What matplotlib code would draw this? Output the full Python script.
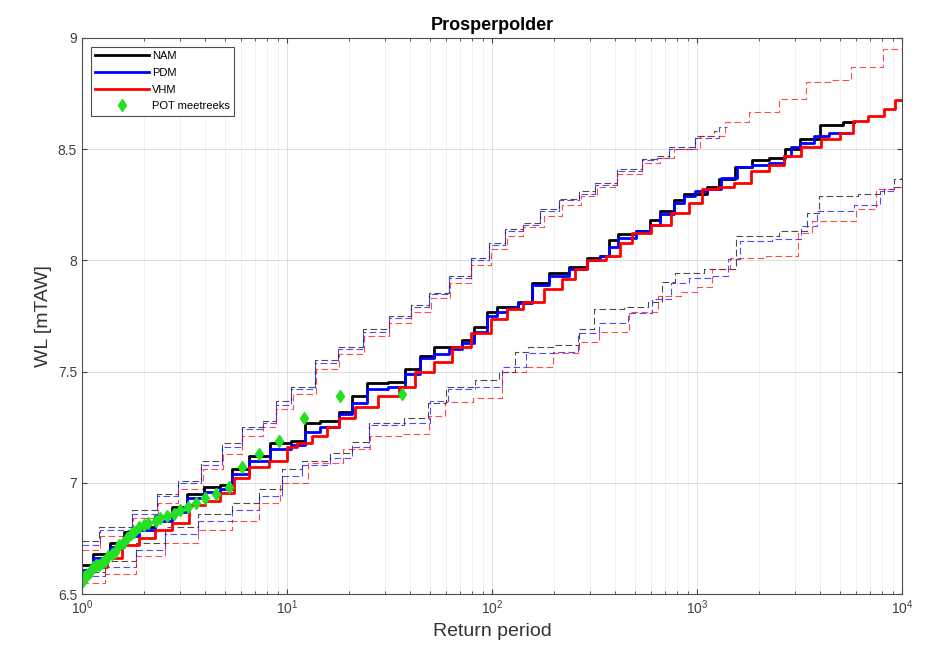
import numpy as np
import matplotlib
matplotlib.use('Agg')
from matplotlib import pyplot as plt

plt.rcParams['font.family'] = ['Liberation Sans', 'DejaVu Sans']
plt.rcParams['mathtext.default'] = 'regular'

# main curves (return period, water level)
nam_T = [1.0, 1.27, 1.48, 1.71, 2.07, 2.48, 3.01, 3.48, 4.36, 5.10, 5.70, 7.38, 9.24, 11.6, 12.9, 16.2,
         19.6, 21.9, 27.5, 34.4, 41.2, 48.2, 55.7, 67.5, 75.6, 87.4, 101, 110, 126, 142, 172, 207, 269,
         310, 363, 385, 436, 570, 610, 714, 827, 895, 1070, 1160, 1400, 1680, 2030, 2460, 2940, 3450,
         4480, 5830]
nam_WL = [6.63, 6.68, 6.73, 6.78, 6.80, 6.85, 6.89, 6.95, 6.98, 6.99, 7.06, 7.12, 7.18, 7.19, 7.27, 7.28,
          7.32, 7.39, 7.45, 7.455, 7.51, 7.57, 7.61, 7.61, 7.64, 7.70, 7.77, 7.79, 7.79, 7.815, 7.90, 7.945,
          7.97, 8.01, 8.02, 8.09, 8.12, 8.13, 8.18, 8.22, 8.27, 8.30, 8.30, 8.33, 8.365, 8.42, 8.45, 8.46,
          8.50, 8.545, 8.61, 8.62]

pdm_T = [1.0, 1.27, 1.48, 1.71, 2.07, 2.48, 3.01, 3.48, 4.36, 5.10, 5.70, 7.38, 9.24, 11.6, 12.9, 16.2,
         19.6, 21.9, 27.5, 34.4, 41.2, 48.2, 55.7, 67.5, 75.6, 87.4, 101, 110, 126, 142, 172, 207, 269,
         310, 363, 385, 436, 570, 610, 714, 827, 895, 1070, 1160, 1450, 1680, 2030, 2460, 2840, 2940,
         3450, 3990, 4850, 5440]
pdm_WL = [6.61, 6.66, 6.71, 6.76, 6.79, 6.83, 6.87, 6.93, 6.96, 6.97, 7.04, 7.10, 7.15, 7.17, 7.23, 7.25,
          7.31, 7.36, 7.42, 7.43, 7.49, 7.56, 7.58, 7.60, 7.63, 7.68, 7.75, 7.77, 7.785, 7.81, 7.89, 7.93,
          7.96, 8.00, 8.02, 8.06, 8.10, 8.13, 8.16, 8.21, 8.26, 8.29, 8.31, 8.32, 8.37, 8.42, 8.43, 8.44,
          8.47, 8.51, 8.53, 8.56, 8.575, 8.575]

vhm_T = [1.0, 1.22, 1.42, 1.71, 2.07, 2.48, 3.01, 3.64, 4.36, 5.10, 5.90, 7.14, 9.24, 10.7, 11.6, 15.0,
         16.2, 19.6, 23.4, 31.9, 38.5, 46.1, 57.7, 69.8, 87.4, 110, 126, 159, 198, 240, 269, 310, 407,
         436, 527, 661, 827, 1000, 1120, 1400, 1620, 2030, 2460, 2840, 3570, 4480, 5440, 6090, 7580,
         8760, 9830, 10000]
vhm_WL = [6.59, 6.62, 6.66, 6.72, 6.75, 6.79, 6.82, 6.90, 6.92, 6.955, 7.02, 7.07, 7.10, 7.16, 7.18, 7.21,
          7.25, 7.29, 7.34, 7.39, 7.43, 7.50, 7.545, 7.61, 7.675, 7.735, 7.78, 7.815, 7.87, 7.915, 7.96,
          8.00, 8.02, 8.08, 8.125, 8.16, 8.215, 8.26, 8.32, 8.33, 8.35, 8.40, 8.43, 8.47, 8.51, 8.545,
          8.575, 8.625, 8.65, 8.68, 8.72, 8.72]

# confidence bands (upper)
nam_up_T = [1.0, 1.42, 2.07, 2.60, 3.25, 4.36, 5.27, 6.82, 8.54, 9.24, 11.6, 15.7, 19.6, 27.5, 35.6, 44.6,
            53.9, 69.8, 87.4, 106, 126, 159, 185, 240, 291, 347, 471, 610, 661, 799, 1160, 1250]
nam_up_WL = [6.74, 6.80, 6.88, 6.95, 7.01, 7.10, 7.18, 7.25, 7.28, 7.37, 7.43, 7.55, 7.61, 7.69, 7.75, 7.80,
             7.855, 7.93, 8.01, 8.08, 8.14, 8.17, 8.23, 8.275, 8.31, 8.35, 8.41, 8.455, 8.47, 8.51, 8.56, 8.58]
pdm_up_T = [1.0, 1.45, 2.07, 2.60, 3.29, 4.36, 5.27, 6.82, 8.54, 9.24, 11.6, 15.7, 19.6, 27.5, 35.6, 44.6,
            53.9, 69.8, 87.4, 106, 126, 159, 185, 240, 291, 347, 471, 610, 661, 799, 1160, 1400]
pdm_up_WL = [6.72, 6.79, 6.86, 6.94, 7.00, 7.08, 7.16, 7.24, 7.27, 7.35, 7.42, 7.54, 7.60, 7.68, 7.74, 7.79,
             7.85, 7.92, 8.00, 8.07, 8.13, 8.16, 8.22, 8.27, 8.30, 8.34, 8.40, 8.45, 8.46, 8.50, 8.55, 8.60]
vhm_up_T = [1.0, 1.45, 2.10, 2.60, 3.29, 4.51, 5.27, 6.82, 8.54, 9.24, 12.1, 15.7, 20.2, 27.5, 35.6, 44.6,
            55.7, 69.8, 87.4, 110, 126, 159, 198, 240, 301, 347, 471, 610, 714, 827, 1250, 1500, 2100,
            2940, 3870, 5020, 6300, 9830, 10000]
vhm_up_WL = [6.70, 6.76, 6.84, 6.91, 6.97, 7.06, 7.13, 7.21, 7.25, 7.33, 7.40, 7.51, 7.58, 7.66, 7.72, 7.77,
             7.83, 7.90, 7.98, 8.05, 8.11, 8.15, 8.20, 8.25, 8.29, 8.33, 8.39, 8.44, 8.46, 8.50, 8.56, 8.62,
             8.665, 8.725, 8.80, 8.81, 8.87, 8.95, 8.95]

# confidence bands (lower)
nam_lo_T = [1.0, 1.58, 2.07, 3.01, 4.36, 6.38, 8.27, 10.7, 12.9, 19.6, 21.9, 28.5, 46.1, 51.6, 67.5, 97.9,
            118, 142, 159, 240, 291, 336, 545, 610, 738, 827, 1340, 1750, 3300, 3570, 4330, 7830, 8470,
            9830, 10000]
nam_lo_WL = [6.60, 6.65, 6.73, 6.80, 6.86, 6.91, 6.97, 7.06, 7.10, 7.135, 7.185, 7.27, 7.29, 7.36, 7.43,
             7.46, 7.50, 7.59, 7.61, 7.62, 7.69, 7.78, 7.79, 7.815, 7.905, 7.945, 7.96, 8.11, 8.13, 8.215,
             8.29, 8.30, 8.32, 8.365, 8.37]
pdm_lo_T = [1.0, 1.58, 2.07, 3.01, 4.36, 6.38, 8.27, 10.7, 12.9, 19.6, 21.9, 28.5, 46.1, 53.9, 67.5, 97.9,
            126, 166, 232, 291, 376, 545, 661, 827, 1000, 1400, 1450, 1810, 2840, 3570, 4140, 7580, 8100,
            10000]
pdm_lo_WL = [6.58, 6.62, 6.70, 6.77, 6.83, 6.88, 6.94, 7.03, 7.08, 7.11, 7.16, 7.26, 7.27, 7.37, 7.42,
             7.43, 7.52, 7.585, 7.59, 7.675, 7.72, 7.765, 7.825, 7.90, 7.92, 7.93, 8.005, 8.085, 8.095,
             8.155, 8.22, 8.25, 8.31, 8.33]
vhm_lo_T = [1.0, 1.58, 2.07, 3.01, 4.36, 6.38, 8.27, 10.3, 15.0, 22.6, 28.5, 44.6, 53.9, 64.6, 97.9, 126,
            166, 232, 301, 363, 570, 714, 956, 1035, 1340, 1570, 2750, 3450, 3870, 5440, 6530, 8470, 9830,
            10000]
vhm_lo_WL = [6.55, 6.59, 6.67, 6.73, 6.79, 6.83, 6.91, 7.00, 7.09, 7.15, 7.21, 7.22, 7.30, 7.365, 7.38,
             7.50, 7.52, 7.585, 7.635, 7.68, 7.77, 7.84, 7.86, 7.88, 7.96, 8.01, 8.02, 8.125, 8.175, 8.175,
             8.23, 8.32, 8.33, 8.33]

# POT observations
pot_T = [36.3, 18.2, 12.1, 9.1, 7.3, 6.05, 5.2, 4.5, 4.0, 3.6, 3.3, 3.0, 2.8, 2.6, 2.4, 2.3, 2.1, 2.0,
         1.9, 1.8, 1.73, 1.65, 1.58, 1.51, 1.45, 1.40, 1.34, 1.30, 1.25, 1.21, 1.17, 1.13, 1.10, 1.07,
         1.04, 1.01]
pot_WL = [7.40, 7.39, 7.29, 7.19, 7.13, 7.07, 6.98, 6.95, 6.93, 6.91, 6.89, 6.88, 6.86, 6.85, 6.84, 6.83,
          6.82, 6.81, 6.80, 6.78, 6.77, 6.75, 6.73, 6.72, 6.69, 6.68, 6.67, 6.65, 6.64, 6.63, 6.63, 6.62,
          6.60, 6.59, 6.58, 6.56]

fig = plt.figure(figsize=(9.42, 6.48), dpi=100)
ax = fig.add_axes([0.087, 0.0833, 0.8705, 0.8581])

dash = dict(lw=0.8, alpha=0.7, dashes=(6, 3), drawstyle='steps-mid')
ax.plot(nam_up_T, nam_up_WL, color='k', **dash)
ax.plot(nam_lo_T, nam_lo_WL, color='k', **dash)
ax.plot(pdm_up_T, pdm_up_WL, color='b', **dash)
ax.plot(pdm_lo_T, pdm_lo_WL, color='b', **dash)
ax.plot(vhm_up_T, vhm_up_WL, color='r', **dash)
ax.plot(vhm_lo_T, vhm_lo_WL, color='r', **dash)

ax.plot(nam_T, nam_WL, color='k', lw=2, drawstyle='steps-mid', label='NAM')
ax.plot(pdm_T, pdm_WL, color='b', lw=2, drawstyle='steps-mid', label='PDM')
ax.plot(vhm_T, vhm_WL, color='r', lw=2, drawstyle='steps-mid', label='VHM')
ax.plot(pot_T, pot_WL, 'd', color='#22e022', ms=6, mec='#22e022', label='POT meetreeks')

ax.set_xscale('log')
ax.set_xlim(1, 1e4)
ax.set_ylim(6.5, 9)
ax.set_yticks([6.5, 7, 7.5, 8, 8.5, 9])
ax.set_yticklabels(['6.5', '7', '7.5', '8', '8.5', '9'])
ax.grid(True, which='major', color='0.85', lw=0.6)
ax.grid(True, which='minor', axis='x', color='0.92', lw=0.5)
ax.tick_params(which='both', direction='in', top=True, right=True, colors='0.25', labelsize=10)
for s in ax.spines.values():
    s.set_color('0.3')
    s.set_linewidth(0.8)

ax.set_title('Prosperpolder', fontsize=13, fontweight='bold')
ax.set_xlabel('Return period', fontsize=14, color='0.2')
ax.set_ylabel('WL [mTAW]', fontsize=14, color='0.2')

leg = ax.legend(loc='upper left', fontsize=8, handlelength=4.8, fancybox=False, framealpha=1,
                edgecolor='0.3', borderaxespad=0.8, labelspacing=0.6, handletextpad=0.3)
leg.get_frame().set_linewidth(0.8)

plt.savefig('out.png', dpi=100)
